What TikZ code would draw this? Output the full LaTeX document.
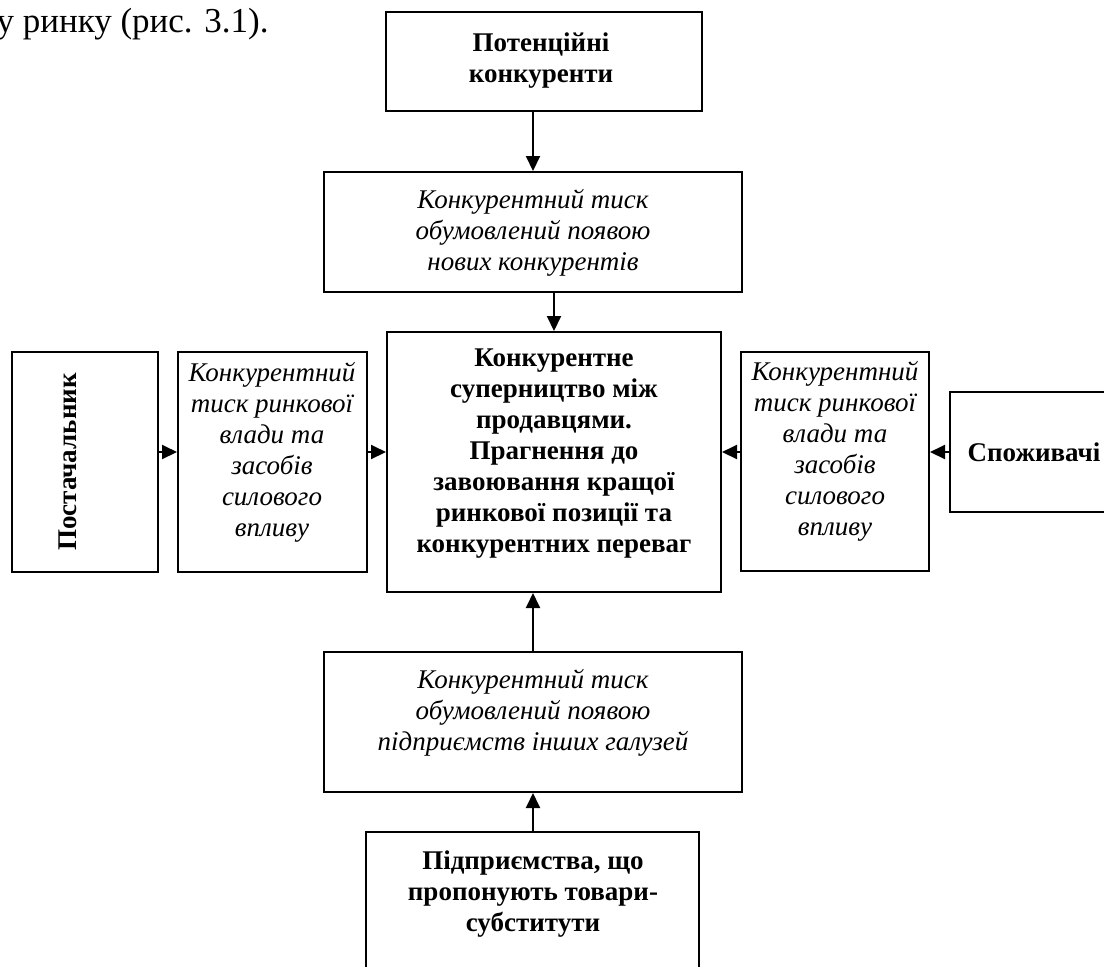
\documentclass[tikz,border=0pt]{standalone}
\usepackage{fontspec}
\setmainfont{Liberation Serif}
\usetikzlibrary{arrows.meta,fit}
\tikzset{
  box/.style={draw, line width=1pt, inner sep=0pt},
  bt/.style={font=\fontsize{13.5}{15.5}\selectfont\bfseries, align=center, inner sep=0pt},
  itx/.style={font=\fontsize{13.5}{15.5}\selectfont\itshape, align=center, inner sep=0pt},
  link/.style={line width=1pt, -{Triangle[length=7.5pt,width=7pt]}},
}
\begin{document}
\begin{tikzpicture}[x=0.5pt,y=-0.5pt]
\useasboundingbox (0,0) rectangle (1104,966);
\begin{scope}
\clip (0,0) rectangle (1104,966);

% running text above the figure
\node[anchor=base east, inner sep=0pt, font=\fontsize{17.5}{20}\selectfont] (cap) at (269,32) {у ринку (рис. 3.1).};

% frames
\node[box, fit={(386,12) (702,111)}] (pc) {};
\node[box, fit={(324,172) (742,292)}] (newp) {};
\node[box, fit={(387,332) (721,592)}] (core) {};
\node[box, fit={(12,352) (158,572)}] (sup) {};
\node[box, fit={(178,352) (367,572)}] (supp) {};
\node[box, fit={(741,352) (929,571)}] (cusp) {};
\node[box, fit={(950,392) (1118,512)}] (cus) {};
\node[box, fit={(324,652) (742,792)}] (subp) {};
\node[box, fit={(366,832) (699,1000)}] (sub) {};

% labels
\node[bt] (pct) at (541,61) {Потенційні\\конкуренти};
\node[itx] (newpt) at (533,233) {Конкурентний тиск\\обумовлений появою\\нових конкурентів};
\node[bt] (coret) at (554,454) {Конкурентне\\суперництво між\\продавцями.\\Прагнення до\\завоювання кращої\\ринкової позиції та\\конкурентних переваг};
\node[bt, rotate=90] (supt) at (68,462) {Постачальник};
\node[itx] (suppt) at (272,452) {Конкурентний\\тиск ринкової\\влади та\\засобів\\силового\\впливу};
\node[itx] (cuspt) at (835,451) {Конкурентний\\тиск ринкової\\влади та\\засобів\\силового\\впливу};
\node[bt] (cust) at (1034,452) {Споживачі};
\node[itx] (subpt) at (533,713) {Конкурентний тиск\\обумовлений появою\\підприємств інших галузей};
\node[bt] (subt) at (533,894) {Підприємства, що\\пропонують товари-\\субститути};

% connector guides
\coordinate (xa) at (533,0);
\coordinate (xb) at (554,0);
\coordinate (ym) at (0,452);

% connectors
\draw[link] (xa |- pc.south) -- (xa |- newp.north);
\draw[link] (xb |- newp.south) -- (xb |- core.north);
\draw[link] (sup.east |- ym) -- (supp.west |- ym);
\draw[link] (supp.east |- ym) -- (core.west |- ym);
\draw[link] (cus.west |- ym) -- (cusp.east |- ym);
\draw[link] (cusp.west |- ym) -- (core.east |- ym);
\draw[link] (xa |- subp.north) -- (xa |- core.south);
\draw[link] (xa |- sub.north) -- (xa |- subp.south);
\end{scope}
\end{tikzpicture}
\end{document}
